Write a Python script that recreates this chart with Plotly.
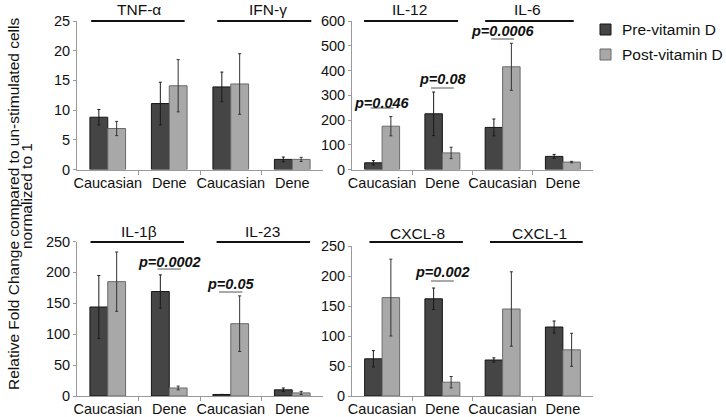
import plotly.graph_objects as go

# ---------------- data ----------------
groups = ["Caucasian", "Dene", "Caucasian", "Dene"]
series_names = ["Pre-vitamin D", "Post-vitamin D"]

# panel 1: TNF-α / IFN-γ
p1_pre = [8.8, 11.1, 13.9, 1.7]
p1_pre_err = [1.3, 3.6, 2.5, 0.4]
p1_post = [6.9, 14.1, 14.4, 1.7]
p1_post_err = [1.2, 4.4, 5.1, 0.35]
# panel 2: IL-12 / IL-6
p2_pre = [27, 225, 170, 53]
p2_pre_err = [9, 88, 34, 8]
p2_post = [175, 67, 415, 30]
p2_post_err = [39, 23, 95, 3]
# panel 3: IL-1β / IL-23
p3_pre = [144, 169, 2.5, 10]
p3_pre_err = [51, 27, 0, 3]
p3_post = [185, 13, 117, 5]
p3_post_err = [48, 3, 45, 2.5]
# panel 4: CXCL-8 / CXCL-1
p4_pre = [62, 162, 60, 115]
p4_pre_err = [13.6, 18, 3.6, 10]
p4_post = [164, 23, 145, 77]
p4_post_err = [64, 9.5, 62, 27.5]

cytokines = [["TNF-α", "IFN-γ"], ["IL-12", "IL-6"], ["IL-1β", "IL-23"], ["CXCL-8", "CXCL-1"]]
y_ranges = [[0, 25], [0, 600], [0, 250], [0, 250]]
y_dticks = [5, 100, 50, 50]

# p-values: (panel, group index, text)
pvalues = [(1, 0, "p=0.046"), (1, 1, "p=0.08"), (1, 2, "p=0.0006"),
           (2, 1, "p=0.0002"), (2, 2, "p=0.05"), (3, 1, "p=0.002")]

pre_vals = [p1_pre, p2_pre, p3_pre, p4_pre]
pre_errs = [p1_pre_err, p2_pre_err, p3_pre_err, p4_pre_err]
post_vals = [p1_post, p2_post, p3_post, p4_post]
post_errs = [p1_post_err, p2_post_err, p3_post_err, p4_post_err]

# ---------------- layout geometry ----------------
W, H = 726, 417
FONT = "Liberation Sans, Arial, sans-serif"
px_x = [(77, 323), (352, 593), (77, 323), (352, 593)]
px_y = [(21, 169.5), (21, 169.5), (241.5, 396), (246, 396)]
xdoms = [[a / W, b / W] for a, b in px_x]
ydoms = [[1 - b / H, 1 - a / H] for a, b in px_y]

# positions (category-index units) of the cytokine header lines and labels
header_lines = [[(-0.27, 1.25), (1.78, 3.31)], [(-0.3, 1.26), (1.71, 3.18)],
                [(-0.28, 1.24), (1.77, 3.29)], [(-0.21, 1.34), (1.79, 3.33)]]
header_text_x = [[0.51, 2.6], [0.46, 2.42], [0.51, 2.52], [0.59, 2.61]]
header_line_y = [21, 21, 242, 242]   # pixel rows
header_text_y = [10, 10, 231, 233]
# p-value text / underline y (pixel rows), same order as pvalues
pv_text_y = [103, 79, 31, 262, 284, 272]
pv_line_y = [108, 88, 39, 269, 292, 281]

def xpaper(panel, idx):
    d0, d1 = xdoms[panel]
    return d0 + (idx + 0.5) / 4 * (d1 - d0)

def ypaper(py):
    return 1 - py / H

PRE_FILL, PRE_LINE = "#454545", "#151515"
POST_FILL, POST_LINE = "#a8a8a8", "#6a6a6a"
AX_COLOR = "#9a9a9a"
TXT = "#111111"

fig = go.Figure()
xs = [0, 1, 2, 3]
for i in range(4):
    sfx = "" if i == 0 else str(i + 1)
    fig.add_trace(go.Bar(
        x=xs, y=pre_vals[i], name=series_names[0], showlegend=False,
        xaxis="x" + sfx, yaxis="y" + sfx, offsetgroup="pre",
        marker=dict(color=PRE_FILL, line=dict(color=PRE_LINE, width=1)),
        error_y=dict(type="data", array=pre_errs[i], color="#1a1a1a", thickness=1, width=1.5),
    ))
    fig.add_trace(go.Bar(
        x=xs, y=post_vals[i], name=series_names[1], showlegend=False,
        xaxis="x" + sfx, yaxis="y" + sfx, offsetgroup="post",
        marker=dict(color=POST_FILL, line=dict(color=POST_LINE, width=1)),
        error_y=dict(type="data", array=post_errs[i], color="#333333", thickness=1, width=1.5),
    ))

layout = dict(
    width=W, height=H, margin=dict(l=0, r=0, t=0, b=0, autoexpand=False),
    paper_bgcolor="white", plot_bgcolor="white",
    barmode="group", bargap=0.42, bargroupgap=0, showlegend=False,
    font=dict(family=FONT, size=14.5, color=TXT),
)
shapes = []
annotations = []
for i in range(4):
    sfx = "" if i == 0 else str(i + 1)
    layout["xaxis" + sfx] = dict(
        domain=xdoms[i], anchor="y" + sfx, range=[-0.5, 3.5], automargin=False,
        tickmode="array", tickvals=xs, ticktext=groups, ticks="", ticklen=0,
        showline=True, linecolor=AX_COLOR, linewidth=1, showgrid=False, zeroline=False,
        minor=dict(tickmode="array", tickvals=[0.5, 1.5, 2.5], ticks="outside",
                   ticklen=4, tickcolor=AX_COLOR, showgrid=False),
        tickfont=dict(size=14.5, family=FONT, color=TXT), fixedrange=True,
    )
    layout["yaxis" + sfx] = dict(
        domain=ydoms[i], anchor="x" + sfx, range=y_ranges[i], dtick=y_dticks[i],
        automargin=False, ticks="outside", ticklen=3, tickcolor=AX_COLOR, showline=True,
        linecolor=AX_COLOR, linewidth=1, showgrid=False, zeroline=False,
        tickfont=dict(size=14.5, family=FONT, color=TXT), fixedrange=True,
    )
    for j in range(2):
        x0, x1 = header_lines[i][j]
        shapes.append(dict(type="line", xref="paper", yref="paper",
                           x0=xpaper(i, x0), x1=xpaper(i, x1),
                           y0=ypaper(header_line_y[i]), y1=ypaper(header_line_y[i]),
                           line=dict(color=TXT, width=2)))
        annotations.append(dict(xref="paper", yref="paper", x=xpaper(i, header_text_x[i][j]),
                                y=ypaper(header_text_y[i]), text=cytokines[i][j],
                                showarrow=False, xanchor="center", yanchor="middle",
                                font=dict(size=15.5, family=FONT, color=TXT)))

for k, (panel, g, txt) in enumerate(pvalues):
    shapes.append(dict(type="line", xref="paper", yref="paper",
                       x0=xpaper(panel, g - 0.19), x1=xpaper(panel, g + 0.19),
                       y0=ypaper(pv_line_y[k]), y1=ypaper(pv_line_y[k]),
                       line=dict(color="#555555", width=1)))
    annotations.append(dict(xref="paper", yref="paper", x=xpaper(panel, g),
                            y=ypaper(pv_text_y[k]), text="<b><i>" + txt + "</i></b>",
                            showarrow=False, xanchor="center", yanchor="middle",
                            font=dict(size=14.5, family=FONT, color=TXT)))

# manual legend (square swatches + labels)
legend_rows = [(29.5, PRE_FILL, PRE_LINE), (54.5, POST_FILL, POST_LINE)]
for (cy, fill, edge), name in zip(legend_rows, series_names):
    shapes.append(dict(type="rect", xref="paper", yref="paper",
                       x0=600 / W, x1=611 / W, y0=ypaper(cy + 5.5), y1=ypaper(cy - 5.5),
                       fillcolor=fill, line=dict(color=edge, width=1)))
    annotations.append(dict(xref="paper", yref="paper", x=620 / W, y=ypaper(cy),
                            text=name, showarrow=False, xanchor="left", yanchor="middle",
                            font=dict(size=15.5, family=FONT, color=TXT)))

annotations.append(dict(xref="paper", yref="paper", x=13 / W, y=ypaper(204),
                        text="Relative Fold Change compared to un-stimulated cells",
                        textangle=-90, showarrow=False, xanchor="center", yanchor="middle",
                        font=dict(size=15.5, family=FONT, color=TXT)))
annotations.append(dict(xref="paper", yref="paper", x=27 / W, y=ypaper(196),
                        text="normalized to 1",
                        textangle=-90, showarrow=False, xanchor="center", yanchor="middle",
                        font=dict(size=15.5, family=FONT, color=TXT)))

layout["shapes"] = shapes
layout["annotations"] = annotations
fig.update_layout(**layout)
fig.write_html(
    "out.html",
    config={"displayModeBar": False},
    post_script="document.body.style.margin='0px';document.body.style.overflow='hidden';",
)
